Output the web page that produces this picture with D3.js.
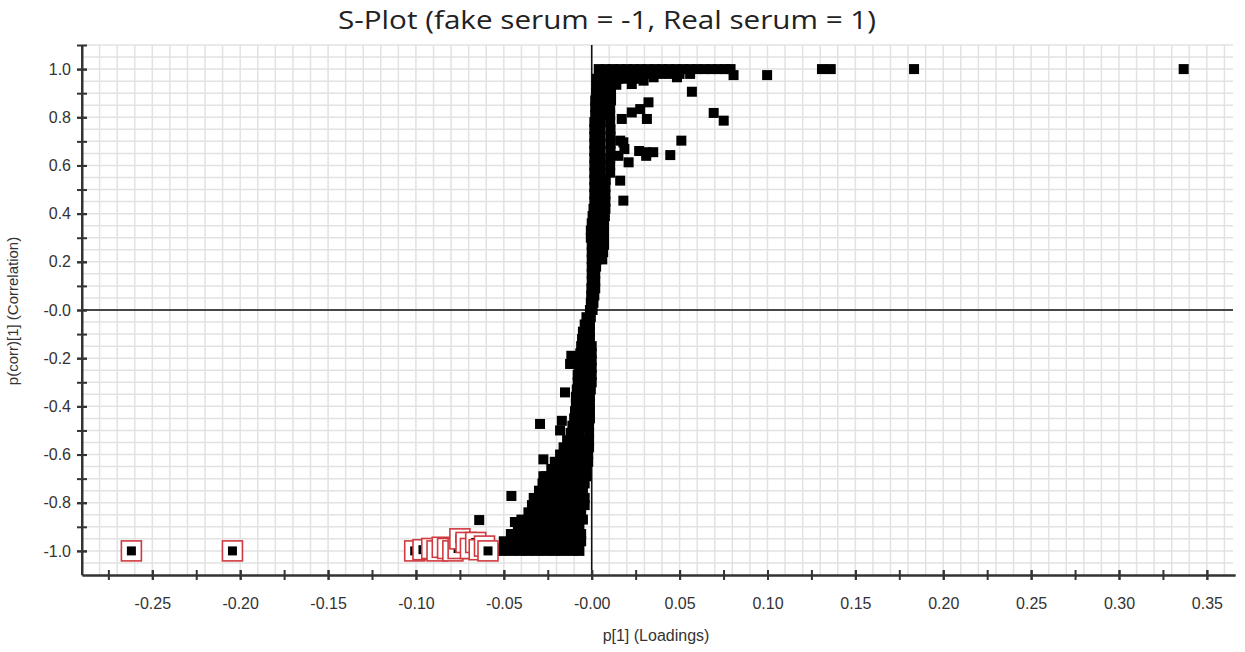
<!DOCTYPE html>
<html><head><meta charset="utf-8">
<script src="https://cdn.jsdelivr.net/npm/d3@7"></script>
<style>body{margin:0;background:#fff}svg{display:block}</style>
</head><body>
<svg id="chart" width="1245" height="652"></svg>
<script>
// ---------- data ----------
const chartTitle = "S-Plot (fake serum = -1, Real serum = 1)";
const xAxisTitle = "p[1] (Loadings)";
const yAxisTitle = "p(corr)[1] (Correlation)";

const xTickValues = [-0.25,-0.20,-0.15,-0.10,-0.05,0.00,0.05,0.10,0.15,0.20,0.25,0.30,0.35];
const xTickLabels = ["-0.25","-0.20","-0.15","-0.10","-0.05","-0.00","0.05","0.10","0.15","0.20","0.25","0.30","0.35"];
const yTickValues = [-1.0,-0.8,-0.6,-0.4,-0.2,0.0,0.2,0.4,0.6,0.8,1.0];
const yTickLabels = ["-1.0","-0.8","-0.6","-0.4","-0.2","-0.0","0.2","0.4","0.6","0.8","1.0"];

// [p[1], p(corr)[1]]
const sCurveUpper = [
[-0.001,0.00],[0.0005,0.00],[-0.0005,0.03],[0.001,0.03],[-0.0003,0.06],[0.0015,0.06],
[-0.0002,0.09],[0.002,0.09],[0.000,0.12],[0.002,0.12],[0.000,0.15],[0.002,0.15],
[0.000,0.18],[0.0025,0.18],[0.000,0.21],[0.003,0.21],[0.006,0.21],
[0.000,0.24],[0.003,0.24],[0.0065,0.24],[0.000,0.27],[0.003,0.27],[0.007,0.27],
[-0.0005,0.30],[0.003,0.30],[0.007,0.30],[-0.0005,0.33],[0.003,0.33],[0.007,0.33],
[0.000,0.36],[0.003,0.36],[0.007,0.36],[0.0005,0.39],[0.004,0.39],[0.0075,0.39],
[0.001,0.42],[0.004,0.42],[0.0078,0.42],[0.0015,0.45],[0.0045,0.45],[0.0078,0.45],
[0.0015,0.48],[0.0045,0.48],[0.0078,0.48],[0.0015,0.51],[0.0045,0.51],[0.0078,0.51],
[0.0015,0.54],[0.0045,0.54],[0.008,0.54],[0.0015,0.57],[0.005,0.57],[0.0105,0.57],
[0.0015,0.60],[0.005,0.60],[0.0105,0.60],[0.0015,0.63],[0.005,0.63],[0.0105,0.63],
[0.0015,0.66],[0.005,0.66],[0.0107,0.66],[0.0015,0.69],[0.005,0.69],[0.0107,0.69],
[0.0015,0.72],[0.005,0.72],[0.0107,0.72],[0.0015,0.75],[0.005,0.75],[0.0107,0.75],
[0.0015,0.78],[0.005,0.78],[0.0105,0.78],[0.002,0.81],[0.0055,0.81],[0.0105,0.81],
[0.002,0.84],[0.0055,0.84],[0.0105,0.84],[0.002,0.87],[0.006,0.87],[0.011,0.87],
[0.0025,0.90],[0.006,0.90],[0.011,0.90],[0.003,0.93],[0.0065,0.93],[0.010,0.93],[0.014,0.935]
];

const sCurvePlateau = [
[0.003,0.96],[0.007,0.96],[0.011,0.96],[0.015,0.96],[0.019,0.96],[0.023,0.96],[0.027,0.96],
[0.005,0.98],[0.009,0.98],[0.014,0.98],[0.019,0.98],[0.024,0.98],[0.029,0.98],[0.034,0.98],
[0.039,0.98],[0.044,0.98],[0.050,0.98],[0.056,0.98],
[0.004,1.0],[0.008,1.0],[0.012,1.0],[0.016,1.0],[0.020,1.0],[0.024,1.0],[0.028,1.0],
[0.032,1.0],[0.036,1.0],[0.040,1.0],[0.044,1.0],[0.048,1.0],[0.052,1.0],[0.056,1.0],
[0.060,1.0],[0.064,1.0],[0.068,1.0],[0.072,1.0],[0.076,1.0],[0.079,1.0]
];

const outliersPositive = [
[0.0807,0.975],[0.0998,0.975],[0.131,1.0],[0.136,1.0],[0.1834,1.0],[0.3368,1.0],
[0.0228,0.938],[0.0295,0.952],[0.0352,0.966],[0.0485,0.966],[0.057,0.906],[0.0323,0.862],
[0.0171,0.793],[0.0228,0.82],[0.0276,0.834],[0.0314,0.793],[0.0694,0.818],[0.0751,0.786],
[0.051,0.703],[0.0447,0.643],[0.018,0.696],[0.0162,0.703],[0.0186,0.668],[0.021,0.613],
[0.0152,0.64],[0.027,0.66],[0.031,0.655],[0.035,0.655],[0.031,0.64],[0.0162,0.537],[0.018,0.454]
];

const sCurveLower = [
[-0.003,-0.03],[-0.0005,-0.03],[-0.004,-0.06],[-0.001,-0.06],[-0.005,-0.09],[-0.001,-0.09],
[-0.0055,-0.12],[-0.001,-0.12],[-0.006,-0.15],[-0.002,-0.15],[0.000,-0.15],
[-0.0065,-0.18],[-0.003,-0.18],[0.000,-0.18],[-0.007,-0.21],[-0.003,-0.21],[0.000,-0.21],
[-0.0075,-0.24],[-0.004,-0.24],[0.000,-0.24],[-0.008,-0.27],[-0.004,-0.27],[0.000,-0.27],
[-0.008,-0.30],[-0.004,-0.30],[0.000,-0.30],[-0.0085,-0.33],[-0.0045,-0.33],[-0.0005,-0.33],
[-0.009,-0.36],[-0.005,-0.36],[-0.001,-0.36],[-0.009,-0.39],[-0.005,-0.39],[-0.001,-0.39],
[-0.0095,-0.42],[-0.005,-0.42],[-0.001,-0.42],[-0.010,-0.45],[-0.0055,-0.45],[-0.001,-0.45],
[-0.011,-0.48],[-0.006,-0.48],[-0.0015,-0.48],[-0.012,-0.51],[-0.007,-0.51],[-0.0015,-0.51],
[-0.014,-0.54],[-0.010,-0.54],[-0.006,-0.54],[-0.0015,-0.54],
[-0.016,-0.57],[-0.012,-0.57],[-0.008,-0.57],[-0.004,-0.57],[-0.0015,-0.57],
[-0.018,-0.60],[-0.014,-0.60],[-0.010,-0.60],[-0.006,-0.60],[-0.002,-0.60],
[-0.021,-0.63],[-0.016,-0.63],[-0.011,-0.63],[-0.006,-0.63],[-0.002,-0.63],
[-0.023,-0.66],[-0.018,-0.66],[-0.013,-0.66],[-0.008,-0.66],[-0.003,-0.66],
[-0.026,-0.69],[-0.021,-0.69],[-0.016,-0.69],[-0.011,-0.69],[-0.006,-0.69],[-0.003,-0.69],
[-0.028,-0.72],[-0.023,-0.72],[-0.018,-0.72],[-0.013,-0.72],[-0.008,-0.72],[-0.004,-0.72],
[-0.030,-0.75],[-0.025,-0.75],[-0.020,-0.75],[-0.015,-0.75],[-0.010,-0.75],[-0.005,-0.75],
[-0.033,-0.78],[-0.028,-0.78],[-0.023,-0.78],[-0.018,-0.78],[-0.013,-0.78],[-0.008,-0.78],[-0.004,-0.78],
[-0.034,-0.81],[-0.029,-0.81],[-0.024,-0.81],[-0.019,-0.81],[-0.014,-0.81],[-0.009,-0.81],[-0.004,-0.81],
[-0.036,-0.84],[-0.031,-0.84],[-0.026,-0.84],[-0.021,-0.84],[-0.016,-0.84],[-0.011,-0.84],[-0.006,-0.84],
[-0.040,-0.87],[-0.035,-0.87],[-0.030,-0.87],[-0.025,-0.87],[-0.020,-0.87],[-0.015,-0.87],[-0.010,-0.87],[-0.005,-0.87],
[-0.042,-0.90],[-0.037,-0.90],[-0.032,-0.90],[-0.027,-0.90],[-0.022,-0.90],[-0.017,-0.90],[-0.012,-0.90],[-0.007,-0.90],
[-0.046,-0.93],[-0.041,-0.93],[-0.036,-0.93],[-0.031,-0.93],[-0.026,-0.93],[-0.021,-0.93],[-0.016,-0.93],[-0.011,-0.93],[-0.006,-0.93],
[-0.050,-0.96],[-0.045,-0.96],[-0.040,-0.96],[-0.035,-0.96],[-0.030,-0.96],[-0.025,-0.96],[-0.020,-0.96],[-0.015,-0.96],[-0.010,-0.96],[-0.006,-0.96],
[-0.053,-0.99],[-0.048,-0.99],[-0.043,-0.99],[-0.038,-0.99],[-0.033,-0.99],[-0.028,-0.99],[-0.023,-0.99],[-0.018,-0.99],[-0.013,-0.99],[-0.008,-0.99],
[-0.051,-1.0],[-0.046,-1.0],[-0.041,-1.0],[-0.036,-1.0],[-0.031,-1.0],[-0.026,-1.0],[-0.021,-1.0],[-0.016,-1.0],[-0.011,-1.0],[-0.007,-1.0]
];

const outliersNegative = [
[-0.0116,-0.19],[-0.0123,-0.224],[-0.0152,-0.342],[-0.017,-0.46],[-0.018,-0.5],[-0.0294,-0.473],
[-0.0275,-0.62],[-0.0275,-0.69],[-0.0457,-0.772],[-0.064,-0.872],[-0.0437,-0.88]
];

// variables highlighted with red boxes
const selectedVars = [
[-0.2619,-1.0],[-0.2044,-1.0],[-0.1007,-1.0],[-0.096,-0.995],[-0.091,-0.99],[-0.088,-1.0],
[-0.085,-0.985],[-0.082,-0.99],[-0.079,-1.0],[-0.076,-0.99],[-0.075,-0.95],[-0.0715,-0.965],
[-0.069,-0.99],[-0.066,-0.965],[-0.064,-0.995],[-0.061,-0.98],[-0.059,-1.0]
];

// ---------- drawing ----------
const svg = d3.select("#chart");
const x = d3.scaleLinear().domain([-0.29, 0.366]).range([82, 1235]);
const y = d3.scaleLinear().domain([-1.1, 1.1]).range([575, 45]);
const font = "'Liberation Sans', Arial, sans-serif";

// grid
const grid = svg.append("g");
grid.selectAll("line.v").data(d3.range(-28, 37).map(i => i / 100)).join("line")
  .attr("x1", d => x(d)).attr("x2", d => x(d)).attr("y1", y(-1.1)).attr("y2", y(1.1))
  .attr("stroke", "#e2e2e2").attr("stroke-width", 1.5);
grid.selectAll("line.h").data(d3.range(-21, 23).map(i => i / 20)).join("line")
  .attr("x1", x(-0.29)).attr("x2", 1233).attr("y1", d => y(d)).attr("y2", d => y(d))
  .attr("stroke", "#e2e2e2").attr("stroke-width", 1.5);

// zero lines
svg.append("line").attr("x1", x(-0.29)).attr("x2", 1233).attr("y1", y(0)).attr("y2", y(0))
  .attr("stroke", "#111").attr("stroke-width", 1.6);
svg.append("line").attr("x1", x(0)).attr("x2", x(0)).attr("y1", y(1.1)).attr("y2", y(-1.1))
  .attr("stroke", "#111").attr("stroke-width", 1.6);

// points
const S = 10;
const allBlack = [...sCurveUpper, ...sCurvePlateau, ...outliersPositive, ...sCurveLower, ...outliersNegative];
svg.append("g").selectAll("rect").data(allBlack).join("rect")
  .attr("x", d => x(d[0]) - S / 2).attr("y", d => y(d[1]) - S / 2)
  .attr("width", S).attr("height", S).attr("fill", "#000");

const sel = svg.append("g");
selectedVars.forEach(d => {
  const B = 20;
  sel.append("rect").attr("x", x(d[0]) - B / 2).attr("y", y(d[1]) - B / 2)
    .attr("width", B).attr("height", B).attr("fill", "#fff")
    .attr("stroke", "#cf3a40").attr("stroke-width", 1.6);
  sel.append("rect").attr("x", x(d[0]) - 4.5).attr("y", y(d[1]) - 4.5)
    .attr("width", 9).attr("height", 9).attr("fill", "#000");
});

// axes
function styleAxis(g) {
  g.select(".domain").attr("stroke", "#333").attr("stroke-width", 2);
  g.selectAll(".tick line").attr("stroke", "#333").attr("stroke-width", 2);
  g.selectAll(".tick text").attr("font-family", font).attr("font-size", 16).attr("fill", "#333");
}
const yMinor = d3.range(-10, 12).map(i => i / 10);
const gyMinor = svg.append("g").attr("transform", `translate(${x(-0.29)},0)`)
  .call(d3.axisLeft(y).tickValues(yMinor).tickFormat("").tickSize(5).tickSizeOuter(0));
styleAxis(gyMinor);
gyMinor.selectAll(".tick line").attr("x1", 5);
const gy = svg.append("g").attr("transform", `translate(${x(-0.29)},0)`)
  .call(d3.axisLeft(y).tickValues(yTickValues).tickFormat((d, i) => yTickLabels[i]).tickSize(5).tickPadding(6).tickSizeOuter(0));
styleAxis(gy);
gy.selectAll(".tick line").attr("x1", 5);
gy.select(".domain").attr("d", `M0,${y(1.1)}V${y(-1.1)}`);

const xMinor = d3.range(-11, 15).map(i => i * 0.025);
const gxMinor = svg.append("g").attr("transform", `translate(0,${y(-1.1)})`)
  .call(d3.axisBottom(x).tickValues(xMinor).tickFormat("").tickSize(5).tickSizeOuter(0));
styleAxis(gxMinor);
gxMinor.selectAll(".tick line").attr("y1", -5);
const gx = svg.append("g").attr("transform", `translate(0,${y(-1.1)})`)
  .call(d3.axisBottom(x).tickValues(xTickValues).tickFormat((d, i) => xTickLabels[i]).tickSize(5).tickPadding(18).tickSizeOuter(0));
styleAxis(gx);
gx.selectAll(".tick line").attr("y1", -5);

// titles
svg.append("text").attr("x", 607).attr("y", 29).attr("text-anchor", "middle")
  .attr("font-family", "'Open Sans', sans-serif").attr("font-size", 26).attr("fill", "#222")
  .attr("textLength", 538).attr("lengthAdjust", "spacingAndGlyphs")
  .text(chartTitle);
svg.append("text").attr("x", 656).attr("y", 641).attr("text-anchor", "middle")
  .attr("font-family", font).attr("font-size", 16).attr("fill", "#333").text(xAxisTitle);
svg.append("text").attr("transform", "translate(18,311) rotate(-90)").attr("text-anchor", "middle")
  .attr("font-family", font).attr("font-size", 15).attr("fill", "#333").text(yAxisTitle);
</script>
</body></html>
